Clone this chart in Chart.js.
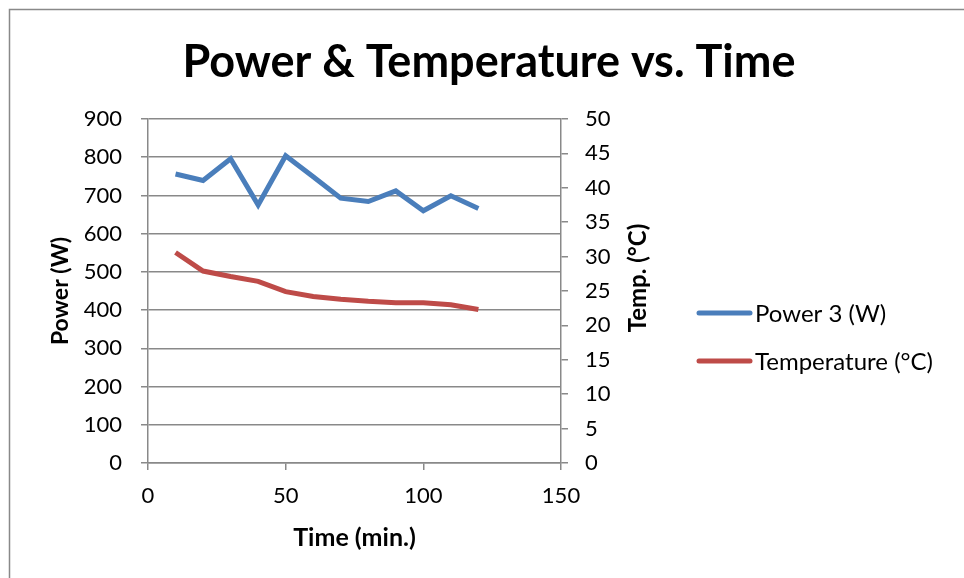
<!DOCTYPE html>
<html>
<head>
<meta charset="utf-8">
<script src="https://cdn.jsdelivr.net/npm/chart.js@4/dist/chart.umd.min.js"></script>
<style>
  html, body { margin: 0; padding: 0; background: #ffffff; }
  canvas { display: block; }
</style>
</head>
<body>
<canvas id="c" width="964" height="578"></canvas>
<script>
// ---- data ----
const times = [10, 20, 30, 40, 50, 60, 70, 80, 90, 100, 110, 120];
const power = [756, 739, 796, 675, 804, 749, 693, 684, 712, 660, 699, 666];
const temperature = [30.6, 27.9, 27.1, 26.4, 24.9, 24.2, 23.8, 23.5, 23.3, 23.3, 23.0, 22.3];
const seriesLabels = ['Power 3 (W)', 'Temperature (°C)'];
const chartTitle = 'Power & Temperature vs. Time';
const xTitle = 'Time (min.)';
const yLeftTitle = 'Power (W)';
const yRightTitle = 'Temp. (°C)';

const FONT = 'Lato, "Open Sans", sans-serif';
const GRID = '#898989';
const BLUE = '#4a7ebb';
const RED = '#be4b48';

const extras = {
  id: 'extras',
  beforeDraw(chart) {
    const ctx = chart.ctx;
    ctx.save();
    ctx.strokeStyle = GRID;
    ctx.lineWidth = 1.5;
    ctx.strokeRect(9.5, 9.5, 1200, 1200);
    ctx.restore();
  },
  afterDraw(chart) {
    const ctx = chart.ctx;
    ctx.save();
    // right axis title, reading bottom-to-top
    ctx.translate(638, 278);
    ctx.rotate(-Math.PI / 2);
    ctx.font = 'bold 24px ' + FONT;
    ctx.fillStyle = '#000';
    ctx.textAlign = 'center';
    ctx.textBaseline = 'middle';
    ctx.fillText(yRightTitle, 0, 0);
    ctx.restore();

    // legend
    ctx.save();
    const ys = [313, 361];
    chart.data.datasets.forEach((ds, i) => {
      ctx.strokeStyle = ds.borderColor;
      ctx.lineWidth = 5;
      ctx.lineCap = 'round';
      ctx.beginPath();
      ctx.moveTo(699, ys[i]);
      ctx.lineTo(750, ys[i]);
      ctx.stroke();
      ctx.font = '24px ' + FONT;
      ctx.fillStyle = '#000';
      ctx.textAlign = 'left';
      ctx.textBaseline = 'middle';
      ctx.fillText(ds.label, 755, ys[i] + 1);
    });
    ctx.restore();
  }
};

new Chart(document.getElementById('c'), {
  type: 'line',
  data: {
    datasets: [
      {
        label: seriesLabels[0],
        data: times.map((t, i) => ({ x: t, y: power[i] })),
        borderColor: BLUE,
        backgroundColor: BLUE,
        borderWidth: 5,
        pointRadius: 0,
        tension: 0,
        yAxisID: 'y'
      },
      {
        label: seriesLabels[1],
        data: times.map((t, i) => ({ x: t, y: temperature[i] })),
        borderColor: RED,
        backgroundColor: RED,
        borderWidth: 5,
        pointRadius: 0,
        tension: 0,
        yAxisID: 'y1'
      }
    ]
  },
  options: {
    responsive: false,
    animation: false,
    devicePixelRatio: 1,
    layout: { padding: { left: 14, right: 0, top: 0, bottom: 0 } },
    plugins: {
      legend: { display: false },
      tooltip: { enabled: false },
      title: {
        display: true,
        text: chartTitle,
        color: '#000',
        font: { family: FONT, size: 45, weight: 'bold', lineHeight: 1.2 },
        padding: { top: 35, bottom: 30 }
      }
    },
    scales: {
      x: {
        type: 'linear',
        position: 'bottom',
        min: 0, max: 150,
        afterFit: s => { s.height = 115; },
        ticks: { stepSize: 50, color: '#000', padding: 13, font: { family: FONT, size: 22 } },
        grid: { drawOnChartArea: false, drawTicks: true, tickLength: 7, color: GRID, lineWidth: 1.5 },
        border: { color: GRID, width: 1.5 },
        title: { display: true, text: xTitle, color: '#000', padding: { top: 0, bottom: 25 },
                 font: { family: FONT, size: 25, weight: 'bold', lineHeight: 1.2 } }
      },
      y: {
        type: 'linear',
        position: 'left',
        min: 0, max: 900,
        afterFit: s => { s.width = 134; },
        ticks: { stepSize: 100, color: '#000', padding: 19, font: { family: FONT, size: 22 } },
        grid: { drawOnChartArea: true, drawTicks: true, tickLength: 7, color: GRID, lineWidth: 1.5 },
        border: { color: GRID, width: 1.5 },
        title: { display: true, text: yLeftTitle, color: '#000', padding: { top: 33, bottom: 0 },
                 font: { family: FONT, size: 23, weight: 'bold', lineHeight: 1.2 } }
      },
      y1: {
        type: 'linear',
        position: 'right',
        min: 0, max: 50,
        afterFit: s => { s.width = 403; },
        ticks: { stepSize: 5, color: '#000', padding: 17, font: { family: FONT, size: 22 } },
        grid: { drawOnChartArea: false, drawTicks: true, tickLength: 7, color: GRID, lineWidth: 1.5 },
        border: { color: GRID, width: 1.5 },
        title: { display: false }
      }
    }
  },
  plugins: [extras]
});
</script>
</body>
</html>
